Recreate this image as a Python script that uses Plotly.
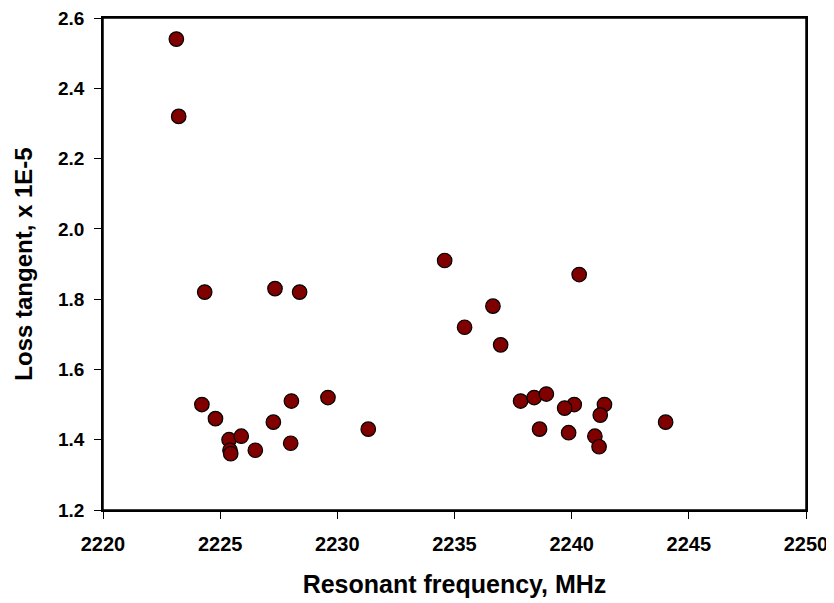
import plotly.graph_objects as go

# resonant frequency (MHz) and loss tangent (x 1E-5)
freq_mhz = [
    2223.13, 2223.23, 2224.34, 2227.34, 2228.39,
    2224.22, 2224.80, 2225.38, 2225.90, 2225.42, 2225.45, 2226.50,
    2227.27, 2228.04, 2228.01, 2229.60, 2231.32,
    2234.58, 2240.32, 2236.64, 2235.43, 2236.97, 2237.82, 2238.40,
    2238.92, 2238.63, 2240.11, 2239.70, 2239.87, 2241.40, 2241.22,
    2240.99, 2241.17, 2244.01,
]
loss_tangent = [
    2.54, 2.32, 1.82, 1.83, 1.82,
    1.50, 1.46, 1.40, 1.41, 1.37, 1.36, 1.37,
    1.45, 1.51, 1.39, 1.52, 1.43,
    1.91, 1.87, 1.78, 1.72, 1.67, 1.51, 1.52,
    1.53, 1.43, 1.50, 1.49, 1.42, 1.50, 1.47,
    1.41, 1.38, 1.45,
]

x_ticks = [2220, 2225, 2230, 2235, 2240, 2245, 2250]
y_ticks = [1.2, 1.4, 1.6, 1.8, 2.0, 2.2, 2.4, 2.6]

font_family = "Arial, Liberation Sans, sans-serif"

fig = go.Figure()

fig.add_trace(go.Scatter(
    x=freq_mhz, y=loss_tangent,
    mode='markers',
    marker=dict(size=14.5, color='#800000', line=dict(color='black', width=1.2)),
    showlegend=False
))

# page body adds an 8px margin, so the figure is a bit smaller than the window
fig.update_layout(
    width=826, height=595,
    autosize=False,
    margin=dict(l=95, r=28, t=10, b=93),
    plot_bgcolor='white',
    paper_bgcolor='white',
    font=dict(family=font_family, color='black'),
)

# frame round the plot area
fig.add_shape(
    type='rect', xref='paper', yref='paper', x0=0, y0=0, x1=1, y1=1,
    line=dict(color='black', width=1.5), layer='below'
)

fig.update_xaxes(
    range=[2220, 2250],
    tickvals=x_ticks,
    ticks='outside', ticklen=7, tickwidth=1.2, tickcolor='black',
    ticklabelstandoff=8, ticklabeloverflow='allow',
    tickfont=dict(size=20, weight='bold'),
    showline=True, linecolor='black', linewidth=1.5, mirror=True,
    showgrid=False, zeroline=False, automargin=False,
    title=dict(text='Resonant frequency, MHz', font=dict(size=25, weight='bold'), standoff=22),
)

fig.update_yaxes(
    range=[1.2, 2.6],
    tickvals=y_ticks, tickformat='.1f',
    ticks='outside', ticklen=7, tickwidth=1.2, tickcolor='black',
    ticklabelstandoff=6, ticklabeloverflow='allow',
    tickfont=dict(size=19, weight='bold'),
    showline=True, linecolor='black', linewidth=1.5, mirror=True,
    showgrid=False, zeroline=False, automargin=False,
    title=dict(text='Loss tangent, x 1E-5', font=dict(size=24, weight='bold'), standoff=19),
)

fig.write_html("out.html")
